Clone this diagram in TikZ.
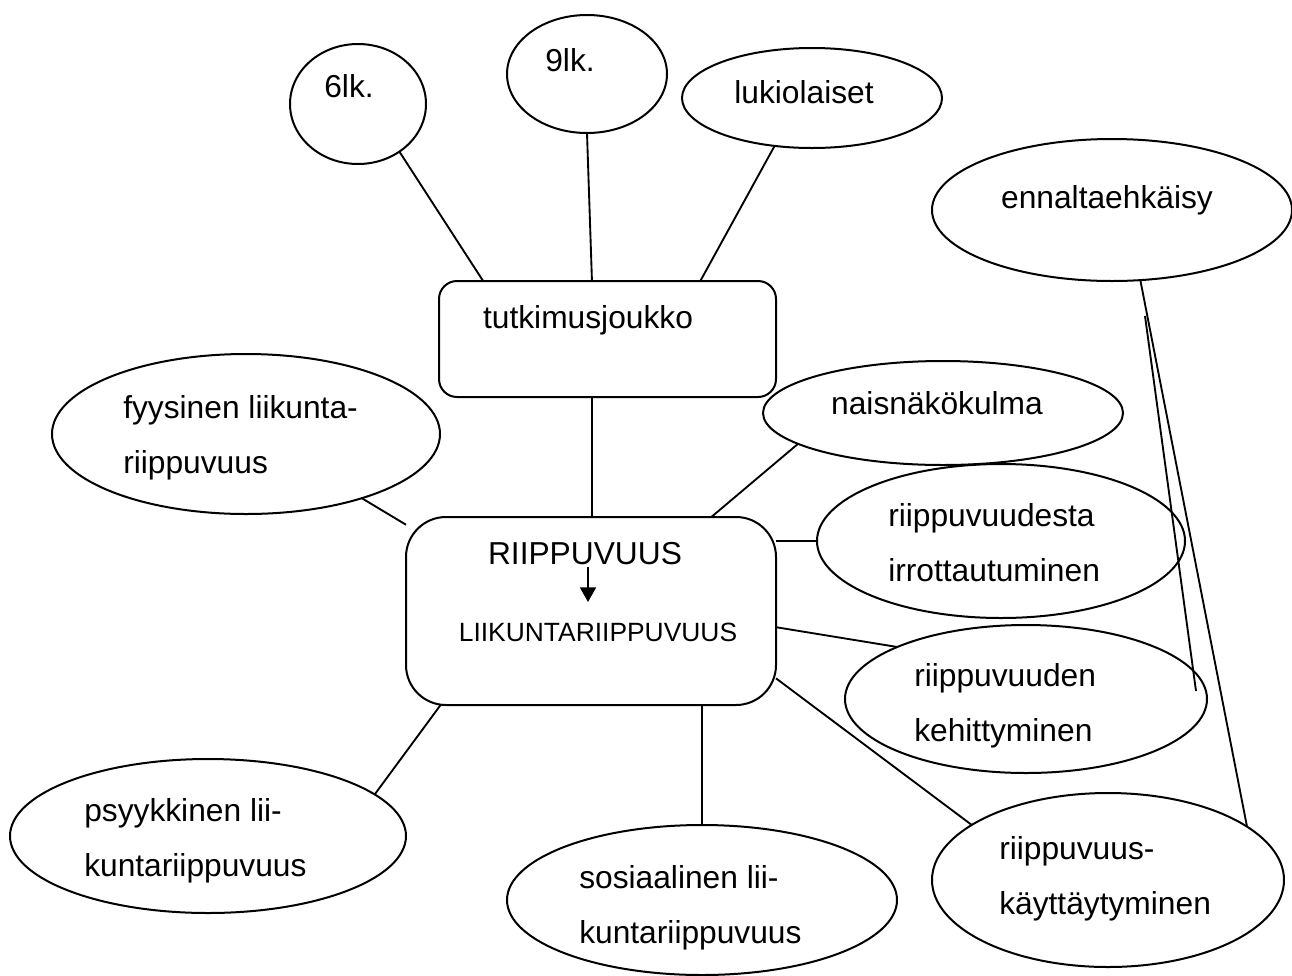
\documentclass[tikz,border=0pt]{standalone}
\usepackage{fontspec}
\setmainfont{Liberation Sans}
\usetikzlibrary{shapes.geometric,arrows.meta}
\begin{document}
\begin{tikzpicture}[x=0.75pt,y=-0.75pt,
  oval/.style={draw,ellipse,line width=1.5pt,inner sep=0pt,outer sep=0pt},
  rbox/.style={draw,rectangle,line width=1.5pt,inner sep=0pt,outer sep=0pt},
  lbl/.style={inner sep=0pt,anchor=west,text height=17.4pt,text depth=0pt,font=\fontsize{23.8}{28}\selectfont},
  ctr/.style={inner sep=0pt,text height=17.4pt,text depth=0pt,font=\fontsize{23.8}{28}\selectfont},
  link/.style={draw,line width=1.4pt}]
\useasboundingbox (0,0) rectangle (1292,975);

% shapes
\node[oval,minimum width=136*0.75pt,minimum height=120*0.75pt] (e6) at (358,104) {};
\node[oval,minimum width=160*0.75pt,minimum height=118*0.75pt] (e9) at (587,74) {};
\node[oval,minimum width=260*0.75pt,minimum height=100*0.75pt] (eluk) at (812,98) {};
\node[oval,minimum width=360*0.75pt,minimum height=142*0.75pt] (eenn) at (1112,210) {};
\node[rbox,rounded corners=13.5pt,minimum width=337*0.75pt,minimum height=116*0.75pt] (tutk) at (607.5,339) {};
\node[rbox,rounded corners=30pt,minimum width=370*0.75pt,minimum height=188*0.75pt] (central) at (591,611) {};
\node[oval,minimum width=388*0.75pt,minimum height=160*0.75pt] (efy) at (246,434) {};
\node[oval,minimum width=360*0.75pt,minimum height=104*0.75pt] (enais) at (943,413) {};
\node[oval,minimum width=368*0.75pt,minimum height=154*0.75pt] (eirr) at (1001,541) {};
\node[oval,minimum width=362*0.75pt,minimum height=148*0.75pt] (ekeh) at (1026,699) {};
\node[oval,minimum width=352*0.75pt,minimum height=174*0.75pt] (ekay) at (1108,880) {};
\node[oval,minimum width=396*0.75pt,minimum height=154*0.75pt] (epsy) at (208,836) {};
\node[oval,minimum width=390*0.75pt,minimum height=150*0.75pt] (esos) at (702,900) {};

% texts
\node[ctr] (t6) at (349,86) {6lk.};
\node[ctr] (t9) at (570,60) {9lk.};
\node[ctr] (tluk) at (804,92) {lukiolaiset};
\node[ctr] (tenn) at (1107,197) {ennaltaehkäisy};
\node[ctr] (ttutk) at (588,317) {tutkimusjoukko};
\node[ctr] (tnais) at (937,403) {naisnäkökulma};
\node[ctr] (riip) at (585,553) {RIIPPUVUUS};
\node[ctr,text height=14.5pt,font=\fontsize{19.8}{24}\selectfont] (liik) at (598,632) {LIIKUNTARIIPPUVUUS};
\node[lbl] (tfy1) at (123,407) {fyysinen liikunta-};
\node[lbl] (tfy2) at (123,462) {riippuvuus};
\node[lbl] (tpsy1) at (84,810) {psyykkinen lii-};
\node[lbl] (tpsy2) at (84,865) {kuntariippuvuus};
\node[lbl] (tsos1) at (579,877) {sosiaalinen lii-};
\node[lbl] (tsos2) at (579,932) {kuntariippuvuus};
\node[lbl] (tirr1) at (888,515) {riippuvuudesta};
\node[lbl] (tirr2) at (888,570) {irrottautuminen};
\node[lbl] (tkeh1) at (914,675) {riippuvuuden};
\node[lbl] (tkeh2) at (914,730) {kehittyminen};
\node[lbl] (tkay1) at (999,848) {riippuvuus-};
\node[lbl] (tkay2) at (999,903) {käyttäytyminen};

% arrow inside the central box
\coordinate (a1) at (588,567);
\coordinate (a2) at (588,602);
\draw[line width=1.5pt,-{Triangle[width=12pt,length=11pt]}] (a1) -- (a2);

% connectors
\draw[link] (e6.-49) -- (tutk.155);
\draw[link] (e9.south) -- (tutk.105);
\draw[link] (eluk.-128) -- (tutk.32);
\draw[link] (tutk.-105) -- (tutk.-105 |- central.north);
\draw[link] (efy.-29) -- (central.155);
\draw[link] (enais.192) -- (central.38);
\draw[link] (eirr.west) -- (eirr.west -| central.east);
\draw[link] (ekeh.158) -- (central.-5);
\draw[link] (ekay.158) -- (central.-20.5);
\draw[link] (esos.north) -- (esos.north |- central.south);
\draw[link] (epsy.14.5) -- (central.-148);
\draw[link] (eenn.-68) -- (ekay.21);
\coordinate (b1) at (1145,316);
\coordinate (b2) at (1196,691);
\draw[link] (b1) -- (b2);
\end{tikzpicture}
\end{document}
